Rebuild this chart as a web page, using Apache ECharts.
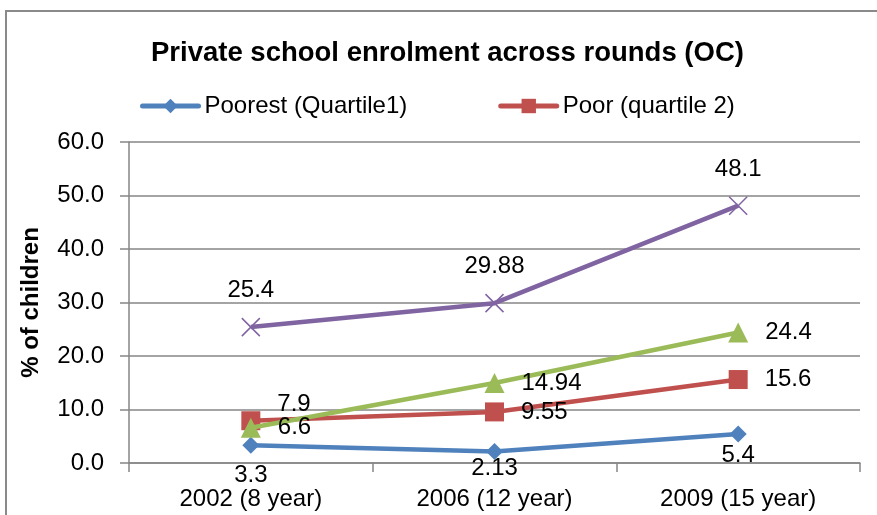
<!DOCTYPE html>
<html>
<head>
<meta charset="utf-8">
<script src="https://cdn.jsdelivr.net/npm/echarts@6/dist/echarts.min.js"></script>
<style>
html,body{margin:0;padding:0;background:#fff;}
#chart{width:877px;height:515px;}
</style>
</head>
<body>
<div id="chart"></div>
<script>
const categories = ['2002 (8 year)', '2006 (12 year)', '2009 (15 year)'];
const seriesNames = ['Poorest (Quartile1)', 'Poor (quartile 2)', 'Quartile 3', 'Least poor (Quartile 4)'];
const poorest = [3.3, 2.13, 5.4];
const poor = [7.9, 9.55, 15.6];
const quartile3 = [6.6, 14.94, 24.4];
const quartile4 = [25.4, 29.88, 48.1];
const yTicks = [0, 10, 20, 30, 40, 50, 60];

const FONT = '"Liberation Sans", Arial, sans-serif';
const GRAY = '#868686';

function items(values, offsets) {
  return values.map((v, i) => {
    const o = offsets && offsets[i];
    return o ? { value: v, label: { offset: o } } : v;
  });
}

const chart = echarts.init(document.getElementById('chart'), null, { renderer: 'canvas' });
const labelBase = { show: true, color: '#000', fontSize: 24, fontFamily: FONT };

chart.setOption({
  animation: false,
  backgroundColor: '#fff',
  textStyle: { fontFamily: FONT },
  graphic: [{
    type: 'rect',
    shape: { x: 6, y: 11, width: 900, height: 600 },
    style: { fill: 'none', stroke: '#8a8a8a', lineWidth: 2 },
    silent: true
  }],
  title: {
    text: 'Private school enrolment across rounds (OC)',
    left: 151,
    top: 39,
    padding: 0,
    textStyle: { fontFamily: FONT, fontSize: 27.5, fontWeight: 'bold', color: '#000' }
  },
  legend: {
    data: [seriesNames[0], seriesNames[1]],
    left: 140,
    top: 94,
    padding: 0,
    itemWidth: 56,
    itemHeight: 18,
    itemGap: 91,
    lineStyle: { width: 5, cap: 'round' },
    textStyle: { fontFamily: FONT, fontSize: 24, color: '#000', padding: [0, 0, 0, 1] }
  },
  grid: { left: 129, right: 17, top: 142, bottom: 52, containLabel: false },
  xAxis: {
    type: 'category',
    data: categories,
    boundaryGap: true,
    axisLine: { show: true, lineStyle: { color: GRAY, width: 1.5 } },
    axisTick: { show: true, interval: 0, length: 9, lineStyle: { color: GRAY, width: 1.5 } },
    axisLabel: { color: '#000', fontSize: 24, fontFamily: FONT, margin: 24, interval: 0 }
  },
  yAxis: {
    type: 'value',
    min: yTicks[0],
    max: yTicks[yTicks.length - 1],
    interval: yTicks[1] - yTicks[0],
    name: '% of children',
    nameLocation: 'middle',
    nameGap: 86,
    nameTextStyle: { fontFamily: FONT, fontSize: 24, fontWeight: 'bold', color: '#000' },
    axisLine: { show: true, lineStyle: { color: GRAY, width: 1.5 } },
    axisTick: { show: true, length: 9, lineStyle: { color: GRAY, width: 1.5 } },
    splitLine: { show: true, lineStyle: { color: GRAY, width: 1.5 } },
    axisLabel: { color: '#000', fontSize: 24, fontFamily: FONT, margin: 25, formatter: v => v.toFixed(1) }
  },
  series: [
    {
      name: seriesNames[0], type: 'line', data: items(poorest, [[0, 2], [0, -12], [0, -7]]),
      symbol: 'diamond', symbolSize: 17,
      lineStyle: { color: '#4F81BD', width: 4.5 },
      itemStyle: { color: '#4F81BD' },
      label: Object.assign({ position: 'bottom', distance: 8 }, labelBase), z: 4
    },
    {
      name: seriesNames[1], type: 'line', data: items(poor, [[0, -16], null, null]),
      symbol: 'rect', symbolSize: 19,
      lineStyle: { color: '#C0504D', width: 4.5 },
      itemStyle: { color: '#C0504D' },
      label: Object.assign({ position: 'right', distance: 17 }, labelBase), z: 3
    },
    {
      name: seriesNames[2], type: 'line', data: items(quartile3),
      symbol: 'triangle', symbolSize: 20,
      lineStyle: { color: '#9BBB59', width: 4.5 },
      itemStyle: { color: '#9BBB59' },
      label: Object.assign({ position: 'right', distance: 17 }, labelBase), z: 5
    },
    {
      name: seriesNames[3], type: 'line', data: items(quartile4),
      symbol: 'path://M0,0L10,10M10,0L0,10', symbolSize: 18,
      lineStyle: { color: '#8064A2', width: 4.5 },
      itemStyle: { color: '#8064A2', borderColor: '#8064A2', borderWidth: 1.5 },
      label: Object.assign({ position: 'top', distance: 15 }, labelBase), z: 2
    }
  ]
});
</script>
</body>
</html>
